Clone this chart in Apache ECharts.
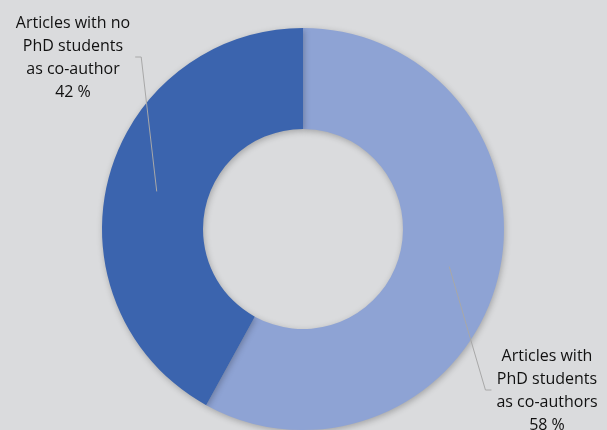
<!DOCTYPE html>
<html><head><meta charset="utf-8">
<script src="https://cdn.jsdelivr.net/npm/echarts@6/dist/echarts.min.js"></script>
<style>html,body{margin:0;padding:0;background:#dadbdd;}#c{width:607px;height:430px;}</style>
</head><body><div id="c"></div>
<script>
const categories = ['Articles with\nPhD students\nas co-authors', 'Articles with no\nPhD students\nas co-author'];
const values = [58, 42];
const colors = ['#8ea3d4', '#3b64ae'];
const labelPos = [{x: 547, y: 345, side: -1}, {x: 73, y: 12, side: 1}];

const data = categories.map((c, i) => ({name: c, value: values[i], itemStyle: {color: colors[i]}}));
const chart = echarts.init(document.getElementById('c'));
chart.setOption({
  backgroundColor: '#dadbdd',
  animation: false,
  series: [{
    type: 'pie', silent: true, z: 2,
    center: [303, 229], radius: [100, 201],
    startAngle: 90, clockwise: true,
    label: {show: false}, labelLine: {show: false},
    itemStyle: {shadowBlur: 6, shadowColor: 'rgba(0,0,0,0.25)', shadowOffsetX: 1, shadowOffsetY: 2},
    data: data
  }, {
    type: 'pie', silent: true, z: 5,
    center: [303, 229], radius: [0, 151],
    startAngle: 90, clockwise: true,
    itemStyle: {color: 'rgba(0,0,0,0)'},
    label: {
      show: true, position: 'outside',
      formatter: p => p.name + '\n' + p.value + ' %',
      fontFamily: 'Open Sans', fontSize: 16, color: '#111111',
      lineHeight: 23, align: 'center'
    },
    labelLine: {show: true, length: 10, length2: 5, lineStyle: {color: '#a8a8a8', width: 1}},
    labelLayout: function (p) {
      const pos = labelPos[p.dataIndex];
      const w = p.labelRect.width, h = p.labelRect.height;
      const anchor = p.labelLinePoints ? p.labelLinePoints[0] : null;
      const edgeX = pos.x + pos.side * (w / 2 + 5);
      const midY = pos.y + h / 2 - 1;
      const res = {x: pos.x, y: pos.y, align: 'center', verticalAlign: 'top'};
      if (anchor) {
        res.labelLinePoints = [anchor, [edgeX + pos.side * 6, midY], [edgeX, midY]];
      }
      return res;
    },
    data: categories.map((c, i) => ({name: c, value: values[i]}))
  }]
});
</script></body></html>
